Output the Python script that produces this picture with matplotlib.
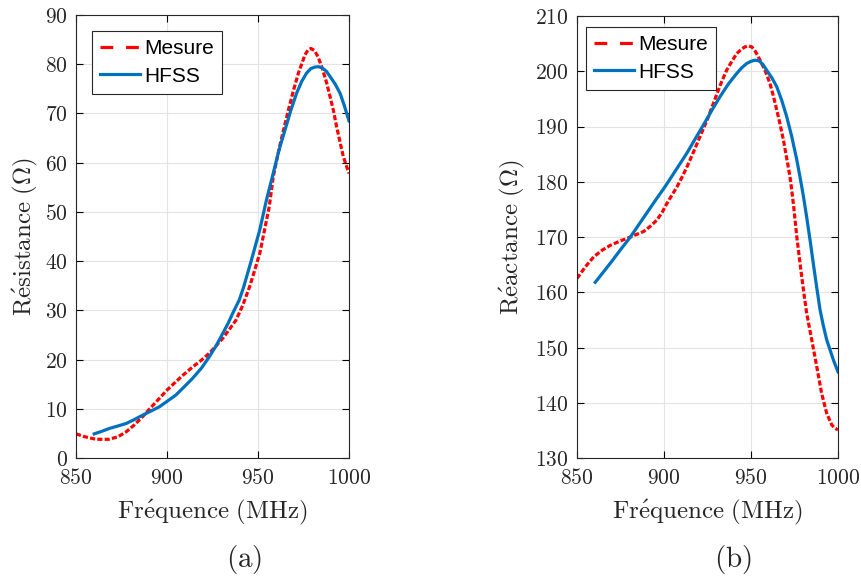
import matplotlib
matplotlib.use("Agg")
import matplotlib.pyplot as plt

plt.rcParams['mathtext.fontset'] = 'cm'

# --- Data: Résistance (Ohm) vs fréquence (MHz) ---
freq_res_mes = [850, 855, 861, 868, 873, 877.5, 882, 886.6, 891, 895.8, 900, 904.9, 909, 914.1, 919,
                923.3, 927, 930.6, 934, 937.9, 941.6, 945.5, 951, 956.2, 958.4, 962, 966.7, 969.5,
                972.2, 975.8, 977.5, 979.1, 981, 983, 985, 987.5, 989.6, 991.5, 993.2, 995, 996.9, 1000]
res_mes = [4.9, 4.3, 3.8, 3.8, 4.3, 5.3, 6.7, 8.4, 10.2, 12.1, 13.8, 15.5, 16.9, 18.5, 19.9,
           21.3, 22.8, 24.3, 26.0, 28.0, 31.0, 34.9, 41.6, 51.1, 57.2, 63.5, 70.7, 74.7,
           78.2, 81.9, 82.9, 83.2, 82.8, 81.5, 79.5, 76.5, 73.4, 70.5, 67.3, 64.3, 61.2, 57.8]
freq_res_hfss = [860, 864, 868.3, 873, 877.5, 882, 886.6, 891, 895.8, 900, 904.9, 909, 914.1, 919,
                 923.3, 927, 930.6, 933.5, 936.1, 939.7, 942, 946, 951, 954.7, 958.4, 961.5, 964.8,
                 968, 971.2, 974, 976.7, 979, 981, 983.1, 985, 987.5, 989.6, 992.5, 995.1, 997.5, 1000]
res_hfss = [4.9, 5.4, 6.0, 6.5, 7.0, 7.8, 8.7, 9.5, 10.4, 11.5, 12.8, 14.3, 16.2, 18.3,
            20.6, 22.8, 25.3, 27.3, 29.4, 32.1, 34.6, 39.7, 46.4, 52.5, 57.9, 62.5, 66.6,
            70.6, 74.1, 76.5, 78.2, 79.1, 79.4, 79.5, 79.3, 78.6, 77.5, 75.9, 74.1, 71.5, 68.5]

# --- Data: Réactance (Ohm) vs fréquence (MHz) ---
freq_rea_mes = [850, 854.8, 859.6, 864.4, 869.2, 875, 880.7, 884.5, 888.3, 892, 896, 899, 901.7,
                904.6, 907.5, 910.3, 913.2, 916, 919, 921.8, 924.7, 928.4, 932.2, 936, 939, 941.8,
                944.5, 946.5, 948.5, 950.5, 952.5, 955.2, 958, 960.9, 962.8, 964.8, 966.7, 968.6,
                970.5, 972.4, 973.4, 974.5, 976.3, 978.2, 980.1, 982, 984.9, 987.8, 990.6, 993.5,
                996.4, 998.2, 1000]
rea_mes = [162.5, 164.6, 166.4, 167.6, 168.5, 169.3, 170.0, 170.5, 171.0, 171.9, 173.1, 174.5, 176.1,
           177.6, 179.1, 180.8, 182.7, 184.7, 186.9, 189.0, 191.1, 194.2, 197.4, 200.2, 201.8,
           203.2, 204.0, 204.4, 204.6, 204.4, 203.6, 202.0, 200.2, 197.8, 195.6, 193.0, 190.4,
           187.6, 184.3, 180.9, 178.5, 175.6, 170.1, 165.2, 160.5, 156.2, 151.4, 146.5, 141.7,
           138.1, 136.0, 135.4, 135.1]
freq_rea_hfss = [860.5, 865, 870, 875, 880.7, 885, 890, 895, 900.8, 907, 913.2, 918, 923.8, 928,
                 932.2, 937, 941.8, 944.6, 947.5, 950, 952.3, 954.5, 956.7, 959, 962, 964.8, 967.6,
                 970.5, 973.4, 976.3, 978.2, 980, 982, 984, 985.9, 987.8, 989.7, 991.6, 993.5,
                 995.5, 997.4, 1000]
rea_hfss = [161.8, 163.6, 165.6, 167.7, 170.0, 172.0, 174.3, 176.6, 179.2, 182.2, 185.2, 187.8,
            190.9, 193.2, 195.4, 197.7, 199.6, 200.6, 201.4, 201.8, 202.0, 201.9, 201.3, 200.2,
            198.8, 197.2, 194.8, 191.8, 188.2, 184.0, 180.8, 177.6, 173.6, 169.3, 165.0, 160.8,
            156.8, 153.9, 151.4, 149.5, 147.7, 145.6]

xticks = [850, 900, 950, 1000]
yticks_res = [0, 10, 20, 30, 40, 50, 60, 70, 80, 90]
yticks_rea = [130, 140, 150, 160, 170, 180, 190, 200, 210]

red = '#ff0000'
blue = '#0072bd'

fig = plt.figure(figsize=(8.62, 5.78), dpi=100)
ax1 = fig.add_axes([76/862, 120/578, 273/862, 443/578])
ax2 = fig.add_axes([577/862, 120/578, 261/862, 442/578])

tick_fs = 15.5
label_fs = 18
dash = (0, (1.6, 0.7))


def style(ax, yticks, ylabel, ylabel_x, xlabel_y):
    ax.set_xlim(850, 1000)
    ax.set_ylim(yticks[0], yticks[-1])
    ax.set_xticks(xticks)
    ax.set_xticklabels([f'${v}$' for v in xticks], fontsize=tick_fs, color='#262626')
    ax.set_yticks(yticks)
    ax.set_yticklabels([f'${v}$' for v in yticks], fontsize=tick_fs, color='#262626')
    ax.grid(True, color='#e3e3e3', linewidth=0.8)
    ax.set_axisbelow(True)
    ax.tick_params(axis='x', direction='in', top=True, length=5, width=0.8, pad=7)
    ax.tick_params(axis='y', direction='in', right=True, length=5, width=0.8, pad=6)
    for s in ax.spines.values():
        s.set_linewidth(0.8)
        s.set_color('#262626')
    ax.set_xlabel(r'$\mathrm{Fr\acute{e}quence\ (MHz)}$', fontsize=label_fs, color='#262626')
    ax.set_ylabel(ylabel, fontsize=label_fs, color='#262626')
    ax.xaxis.label.set_va('center')
    ax.yaxis.label.set_va('center')
    ax.xaxis.set_label_coords(0.5, xlabel_y)
    ax.yaxis.set_label_coords(ylabel_x, 0.5)


ax1.plot(freq_res_mes, res_mes, color=red, lw=2.3, linestyle=dash, label='Mesure')
ax1.plot(freq_res_hfss, res_hfss, color=blue, lw=2.3, label='HFSS')
style(ax1, yticks_res, r'$\mathrm{R\acute{e}sistance\ (\Omega)}$', (25-76)/273, (458-512)/443)

ax2.plot(freq_rea_mes, rea_mes, color=red, lw=2.3, linestyle=dash, label='Mesure')
ax2.plot(freq_rea_hfss, rea_hfss, color=blue, lw=2.3, label='HFSS')
style(ax2, yticks_rea, r'$\mathrm{R\acute{e}actance\ (\Omega)}$', (512-577)/261, (458-512)/442)

for ax, anchor in ((ax1, (16/273, 1-16/443)), (ax2, (9/261, 1-11/442))):
    leg = ax.legend(loc='upper left', bbox_to_anchor=anchor, borderaxespad=0,
                    frameon=True, fancybox=False, framealpha=1,
                    edgecolor='#262626', handlelength=1.9, borderpad=0.4, labelspacing=0.4,
                    handletextpad=0.2, prop={'family': 'Liberation Sans', 'size': 15})
    leg.get_frame().set_linewidth(0.8)
    leg.get_lines()[0].set_linestyle((0, (4, 4)))

fig.text(244/862, 1 - 560/578, r'$\mathrm{(a)}$', fontsize=21, ha='center', va='center', color='#262626')
fig.text(733/862, 1 - 560/578, r'$\mathrm{(b)}$', fontsize=21, ha='center', va='center', color='#262626')

fig.savefig('out.png', dpi=100)
